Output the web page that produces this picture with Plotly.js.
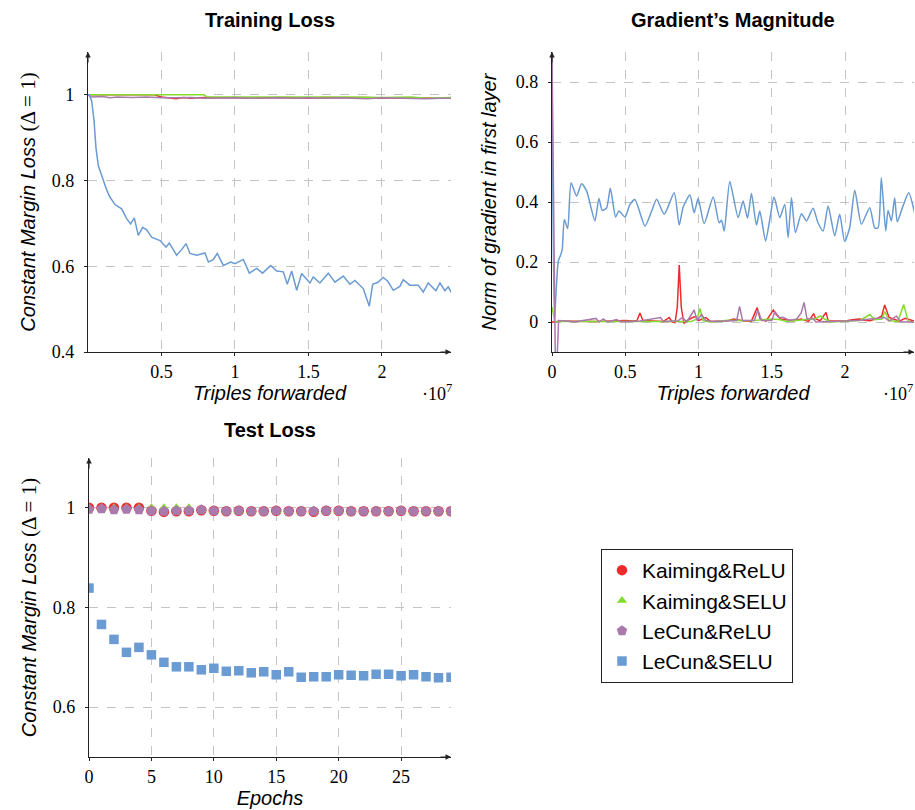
<!DOCTYPE html>
<html>
<head>
<meta charset="utf-8">
<script src="https://cdn.plot.ly/plotly-3.0.1.min.js"></script>
<style>html,body{margin:0;padding:0;background:#fff;}#chart{width:915px;height:810px;}</style>
</head>
<body>
<div id="chart"></div>
<script>
// ---------- Series names & colours ----------
const seriesNames = ['Kaiming&ReLU', 'Kaiming&SELU', 'LeCun&ReLU', 'LeCun&SELU'];
const colors = ['#ee2a2a', '#82dc2e', '#a97aab', '#6a9bd2'];

// ---------- Training loss (x in units of 1e7 triples) ----------
const trainRedX = [0, 0.2, 0.45, 0.5, 0.55, 0.6, 0.65, 0.7, 0.75, 0.8, 0.9, 1.0, 1.1, 1.2, 1.3, 1.4, 1.5, 1.6, 1.7, 1.8, 1.9, 2.0, 2.1, 2.2, 2.3, 2.4, 2.47];
const trainRedY = [1.0, 1.0, 1.0, 0.995, 0.993, 0.991, 0.994, 0.992, 0.993, 0.994, 0.993, 0.994, 0.992, 0.993, 0.994, 0.993, 0.992, 0.994, 0.993, 0.993, 0.994, 0.992, 0.993, 0.993, 0.992, 0.993, 0.992];
const trainGreenX = [0, 0.4, 0.79, 0.81, 1.0, 1.2, 1.4, 1.6, 1.8, 2.0, 2.2, 2.3, 2.4, 2.47];
const trainGreenY = [1.0, 1.0, 1.0, 0.995, 0.995, 0.996, 0.995, 0.995, 0.995, 0.994, 0.995, 0.992, 0.993, 0.994];
const trainPurpleX = [0, 0.02, 0.1, 0.15, 0.2, 0.3, 0.4, 0.5, 0.6, 0.7, 0.8, 0.9, 1.0, 1.1, 1.2, 1.3, 1.4, 1.5, 1.6, 1.7, 1.8, 1.9, 2.0, 2.1, 2.2, 2.3, 2.4, 2.47];
const trainPurpleY = [1.0, 0.995, 0.996, 0.993, 0.995, 0.994, 0.995, 0.993, 0.993, 0.994, 0.992, 0.993, 0.993, 0.992, 0.993, 0.993, 0.992, 0.993, 0.992, 0.993, 0.992, 0.991, 0.993, 0.992, 0.992, 0.991, 0.992, 0.992];
const trainBlueX = [0, 0.009, 0.025, 0.041, 0.054, 0.07, 0.085, 0.104, 0.125, 0.15, 0.184, 0.229, 0.263, 0.29, 0.315, 0.342, 0.372, 0.399, 0.433, 0.49, 0.531, 0.553, 0.603, 0.64, 0.667, 0.694, 0.739, 0.796, 0.819, 0.85, 0.88, 0.921, 0.971, 1.0, 1.03, 1.057, 1.098, 1.148, 1.188, 1.243, 1.284, 1.329, 1.356, 1.386, 1.42, 1.454, 1.51, 1.533, 1.578, 1.635, 1.68, 1.737, 1.782, 1.816, 1.873, 1.914, 1.937, 1.97, 2.009, 2.04, 2.077, 2.122, 2.145, 2.19, 2.247, 2.281, 2.315, 2.367, 2.395, 2.429, 2.451, 2.474];
const trainBlueY = [1.0, 1.0, 0.986, 0.94, 0.877, 0.835, 0.82, 0.80, 0.78, 0.761, 0.744, 0.734, 0.711, 0.699, 0.713, 0.672, 0.691, 0.685, 0.668, 0.66, 0.645, 0.654, 0.626, 0.64, 0.653, 0.63, 0.626, 0.631, 0.61, 0.615, 0.63, 0.602, 0.61, 0.606, 0.612, 0.616, 0.584, 0.595, 0.584, 0.602, 0.589, 0.587, 0.558, 0.589, 0.544, 0.583, 0.561, 0.575, 0.561, 0.584, 0.563, 0.577, 0.558, 0.567, 0.548, 0.507, 0.558, 0.562, 0.574, 0.565, 0.544, 0.553, 0.569, 0.556, 0.556, 0.54, 0.561, 0.543, 0.561, 0.543, 0.552, 0.538];

// ---------- Gradient magnitude ----------
const gradRedX = [0, 0.02, 0.05, 0.3, 0.5, 0.55, 0.58, 0.6, 0.62, 0.7, 0.76, 0.8, 0.82, 0.84, 0.855, 0.868, 0.882, 0.9, 0.92, 0.96, 0.98, 1.0, 1.05, 1.08, 1.2, 1.24, 1.3, 1.36, 1.4, 1.42, 1.46, 1.51, 1.53, 1.56, 1.6, 1.65, 1.7, 1.75, 1.785, 1.8, 1.83, 1.87, 1.885, 1.95, 2.0, 2.06, 2.1, 2.13, 2.17, 2.22, 2.25, 2.27, 2.3, 2.33, 2.37, 2.41, 2.44, 2.47];
const gradRedY = [0.0, 0.0, 0.003, 0.002, 0.005, 0.003, 0.005, 0.03, 0.005, 0.004, 0.002, 0.015, 0.0, -0.002, 0.05, 0.19, 0.05, -0.005, 0.005, 0.015, 0.018, 0.005, 0.015, 0.002, 0.004, 0.01, 0.004, 0.002, 0.048, 0.01, 0.003, 0.04, 0.025, 0.01, 0.008, 0.004, 0.01, 0.002, 0.028, 0.01, 0.004, 0.032, 0.003, 0.002, 0.003, 0.008, 0.01, 0.006, 0.004, 0.012, 0.02, 0.057, 0.015, 0.01, 0.003, 0.012, 0.008, 0.003];
const gradGreenX = [0, 0.01, 0.02, 0.05, 0.3, 0.62, 0.95, 0.99, 1.01, 1.03, 1.08, 1.2, 1.35, 1.5, 1.55, 1.6, 1.8, 1.83, 1.86, 1.9, 2.0, 2.1, 2.17, 2.2, 2.25, 2.27, 2.3, 2.36, 2.4, 2.43, 2.47];
const gradGreenY = [0.05, 0.02, 0.0, 0.002, 0.002, 0.002, 0.002, 0.01, 0.045, 0.005, 0.0, 0.006, 0.004, 0.01, 0.008, 0.002, 0.012, 0.02, 0.01, 0.0, 0.002, 0.005, 0.025, 0.008, 0.01, 0.035, 0.005, 0.002, 0.058, 0.002, 0.0];
const gradPurpleX = [0, 0.015, 0.022, 0.035, 0.045, 0.1, 0.15, 0.3, 0.32, 0.35, 0.38, 0.44, 0.47, 0.6, 0.74, 0.76, 0.86, 0.89, 0.92, 0.97, 0.99, 1.02, 1.05, 1.1, 1.26, 1.28, 1.3, 1.38, 1.405, 1.43, 1.5, 1.52, 1.55, 1.58, 1.62, 1.67, 1.7, 1.72, 1.74, 1.78, 1.8, 2.0, 2.1, 2.2, 2.27, 2.3, 2.35, 2.38, 2.47];
const gradPurpleY = [0.9, 0.3, -0.1, -0.12, 0.005, 0.003, 0.0, 0.012, 0.0, 0.01, 0.0, 0.008, 0.0, 0.003, 0.015, 0.002, 0.004, 0.015, 0.0, 0.04, 0.005, 0.025, 0.005, 0.002, 0.005, 0.052, 0.005, 0.005, 0.04, 0.005, 0.005, 0.035, 0.015, 0.015, 0.005, 0.01, 0.03, 0.065, 0.01, 0.012, 0.0, 0.003, 0.006, 0.012, 0.015, 0.003, 0.02, 0.0, 0.0];
const gradBlueX = [0, 0.016, 0.03, 0.043, 0.061, 0.07, 0.084, 0.107, 0.13, 0.168, 0.202, 0.236, 0.293, 0.32, 0.343, 0.373, 0.398, 0.434, 0.457, 0.498, 0.532, 0.566, 0.634, 0.68, 0.714, 0.766, 0.834, 0.868, 0.895, 0.941, 0.97, 0.997, 1.038, 1.1, 1.14, 1.157, 1.175, 1.213, 1.27, 1.304, 1.334, 1.361, 1.395, 1.418, 1.457, 1.486, 1.515, 1.554, 1.588, 1.611, 1.634, 1.661, 1.702, 1.736, 1.781, 1.815, 1.85, 1.884, 1.929, 1.963, 1.997, 2.031, 2.066, 2.111, 2.168, 2.202, 2.225, 2.247, 2.277, 2.293, 2.316, 2.338, 2.356, 2.395, 2.434, 2.474];
const gradBlueY = [0.9, 0.0, 0.12, 0.203, 0.226, 0.242, 0.342, 0.311, 0.464, 0.42, 0.461, 0.437, 0.337, 0.412, 0.372, 0.381, 0.446, 0.35, 0.37, 0.35, 0.392, 0.408, 0.32, 0.37, 0.409, 0.359, 0.431, 0.323, 0.383, 0.423, 0.364, 0.412, 0.328, 0.417, 0.331, 0.339, 0.303, 0.468, 0.348, 0.403, 0.346, 0.428, 0.323, 0.37, 0.27, 0.342, 0.417, 0.348, 0.392, 0.281, 0.414, 0.298, 0.361, 0.337, 0.379, 0.331, 0.303, 0.387, 0.287, 0.359, 0.268, 0.314, 0.439, 0.326, 0.381, 0.314, 0.314, 0.481, 0.303, 0.372, 0.337, 0.414, 0.334, 0.387, 0.431, 0.364];

// ---------- Test loss ----------
const epochs = [0, 1, 2, 3, 4, 5, 6, 7, 8, 9, 10, 11, 12, 13, 14, 15, 16, 17, 18, 19, 20, 21, 22, 23, 24, 25, 26, 27, 28, 29];
const testRed = [1.0, 1.0, 1.0, 1.0, 1.0, 0.994, 0.992, 0.993, 0.993, 0.995, 0.994, 0.993, 0.994, 0.993, 0.993, 0.994, 0.993, 0.993, 0.992, 0.994, 0.994, 0.993, 0.993, 0.993, 0.993, 0.994, 0.993, 0.993, 0.993, 0.993];
const testGreen = [1.0, 1.0, 1.0, 1.0, 1.0, 1.0, 1.0, 1.0, 1.0, 0.996, 0.994, 0.994, 0.994, 0.994, 0.994, 0.994, 0.994, 0.994, 0.994, 0.994, 0.994, 0.994, 0.994, 0.994, 0.994, 0.994, 0.994, 0.994, 0.994, 0.994];
const testPurple = [0.997, 0.998, 0.996, 0.997, 0.996, 0.994, 0.993, 0.994, 0.994, 0.996, 0.994, 0.993, 0.994, 0.993, 0.993, 0.994, 0.993, 0.993, 0.993, 0.994, 0.994, 0.993, 0.993, 0.993, 0.993, 0.994, 0.993, 0.993, 0.993, 0.993];
const testBlue = [0.839, 0.766, 0.736, 0.710, 0.720, 0.705, 0.690, 0.681, 0.681, 0.675, 0.678, 0.672, 0.673, 0.669, 0.671, 0.665, 0.671, 0.660, 0.661, 0.661, 0.665, 0.664, 0.663, 0.666, 0.666, 0.663, 0.665, 0.661, 0.659, 0.660];

// ---------- Tick labels ----------
const tripleTicks = [0, 0.5, 1, 1.5, 2];
const tripleTickText = ['0', '0.5', '1', '1.5', '2'];
const trainYTicks = [0.4, 0.6, 0.8, 1];
const trainYTickText = ['0.4', '0.6', '0.8', '1'];
const gradYTicks = [0, 0.2, 0.4, 0.6, 0.8];
const gradYTickText = ['0', '0.2', '0.4', '0.6', '0.8'];
const epochTicks = [0, 5, 10, 15, 20, 25];
const testYTicks = [0.6, 0.8, 1];
const testYTickText = ['0.6', '0.8', '1'];

// ---------- Layout geometry ----------
const W = 915, H = 810;
const px = v => v / W, py = v => 1 - v / H;
const dom1x = [px(88), px(451)], dom1y = [py(352), py(52)];
const dom2x = [px(552), px(914)], dom2y = [py(352), py(52)];
const dom3x = [px(89), px(451)], dom3y = [py(757), py(458)];

const serif = 'Liberation Serif, DejaVu Serif, serif';
const sans = 'Liberation Sans, Arial, sans-serif';
const tickFont = {family: serif, size: 18, color: '#000'};
const axTitleFont = {family: sans, size: 20, color: '#000'};
const lossTitle = '<i>Constant Margin Loss </i><span style="font-family:Liberation Serif;font-size:21px;">(Δ = 1)</span>';

function axisBase(extra) {
  return Object.assign({
    showline: true, linecolor: '#222', linewidth: 1.2,
    showgrid: true, gridcolor: '#c4c4c4', gridwidth: 1, griddash: 'dash',
    zeroline: false, ticks: 'outside', ticklen: 3, tickcolor: '#222',
    tickfont: tickFont, automargin: false, fixedrange: true
  }, extra);
}

const lw = 1.5;
const traces = [
  // Training loss
  {x: trainRedX, y: trainRedY, xaxis: 'x', yaxis: 'y', mode: 'lines', line: {color: colors[0], width: lw}, showlegend: false},
  {x: trainGreenX, y: trainGreenY, xaxis: 'x', yaxis: 'y', mode: 'lines', line: {color: colors[1], width: lw}, showlegend: false},
  {x: trainPurpleX, y: trainPurpleY, xaxis: 'x', yaxis: 'y', mode: 'lines', line: {color: colors[2], width: lw}, showlegend: false},
  {x: trainBlueX, y: trainBlueY, xaxis: 'x', yaxis: 'y', mode: 'lines', line: {color: colors[3], width: lw}, showlegend: false},
  // Gradient magnitude
  {x: gradBlueX, y: gradBlueY, xaxis: 'x2', yaxis: 'y2', mode: 'lines', line: {color: colors[3], width: lw, shape: 'spline', smoothing: 0.6}, showlegend: false},
  {x: gradRedX, y: gradRedY, xaxis: 'x2', yaxis: 'y2', mode: 'lines', line: {color: colors[0], width: lw}, showlegend: false},
  {x: gradGreenX, y: gradGreenY, xaxis: 'x2', yaxis: 'y2', mode: 'lines', line: {color: colors[1], width: lw}, showlegend: false},
  {x: gradPurpleX, y: gradPurpleY, xaxis: 'x2', yaxis: 'y2', mode: 'lines', line: {color: colors[2], width: lw}, showlegend: false},
  // Test loss
  {x: epochs, y: testRed, xaxis: 'x3', yaxis: 'y3', mode: 'markers', name: seriesNames[0], marker: {symbol: 'circle', size: 10.5, color: colors[0]}},
  {x: epochs, y: testGreen, xaxis: 'x3', yaxis: 'y3', mode: 'markers', name: seriesNames[1], marker: {symbol: 'triangle-up', size: 9, color: colors[1]}},
  {x: epochs, y: testPurple, xaxis: 'x3', yaxis: 'y3', mode: 'markers', name: seriesNames[2], marker: {symbol: 'pentagon', size: 11, color: colors[2]}},
  {x: epochs, y: testBlue, xaxis: 'x3', yaxis: 'y3', mode: 'markers', name: seriesNames[3], marker: {symbol: 'square', size: 9.5, color: colors[3]}}
];

function arrow(x, y, ax, ay) {
  return {x: x, y: y, xref: 'paper', yref: 'paper', text: '', showarrow: true,
          ax: ax, ay: ay, arrowhead: 2, arrowsize: 1, arrowwidth: 1.1, arrowcolor: '#222', standoff: 0};
}
function title(text, x, y) {
  return {text: '<b>' + text + '</b>', x: x, y: y, xref: 'paper', yref: 'paper', showarrow: false,
          xanchor: 'center', yanchor: 'middle', font: {family: sans, size: 20, color: '#000'}};
}
function scaleNote(x, y) {
  return {text: '·10<sup>7</sup>', x: x, y: y, xref: 'paper', yref: 'paper', showarrow: false,
          xanchor: 'center', yanchor: 'middle', font: {family: serif, size: 18, color: '#000'}};
}

const layout = {
  width: W, height: H,
  margin: {l: 0, r: 0, t: 0, b: 0},
  paper_bgcolor: '#fff', plot_bgcolor: '#fff',
  showlegend: true,
  legend: {x: px(601), y: py(549), xanchor: 'left', yanchor: 'top',
           bordercolor: '#222', borderwidth: 1, bgcolor: '#fff',
           font: {family: sans, size: 21, color: '#000'}},
  xaxis: axisBase({domain: dom1x, anchor: 'y', range: [0, 2.47], tickvals: tripleTicks.slice(1), ticktext: tripleTickText.slice(1),
    title: {text: '<i>Triples forwarded</i>', font: axTitleFont, standoff: 2}}),
  yaxis: axisBase({domain: dom1y, anchor: 'x', range: [0.4, 1.1], tickvals: trainYTicks, ticktext: trainYTickText,
    ticklabelstandoff: 6, title: {text: lossTitle, font: axTitleFont, standoff: 10}}),
  xaxis2: axisBase({domain: dom2x, anchor: 'y2', range: [0, 2.47], tickvals: tripleTicks, ticktext: tripleTickText,
    title: {text: '<i>Triples forwarded</i>', font: axTitleFont, standoff: 2}}),
  yaxis2: axisBase({domain: dom2y, anchor: 'x2', range: [-0.1, 0.9], tickvals: gradYTicks, ticktext: gradYTickText,
    ticklabelstandoff: 6, title: {text: '<i>Norm of gradient in first layer</i>', font: axTitleFont, standoff: 13}}),
  xaxis3: axisBase({domain: dom3x, anchor: 'y3', range: [0, 29], tickvals: epochTicks,
    title: {text: '<i>Epochs</i>', font: axTitleFont, standoff: 2}}),
  yaxis3: axisBase({domain: dom3y, anchor: 'x3', range: [0.5, 1.1], tickvals: testYTicks, ticktext: testYTickText,
    ticklabelstandoff: 6, title: {text: lossTitle, font: axTitleFont, standoff: 10}}),
  annotations: [
    title('Training Loss', px(270), py(20)),
    title('Gradient’s Magnitude', px(733), py(20)),
    title('Test Loss', px(270), py(430)),
    scaleNote(px(437), py(392)),
    scaleNote(px(898), py(392)),
    arrow(dom1x[0], dom1y[1], 0, 12), arrow(dom1x[1], dom1y[0], -12, 0),
    arrow(dom2x[0], dom2y[1], 0, 12), arrow(dom2x[1], dom2y[0], -12, 0),
    arrow(dom3x[0], dom3y[1], 0, 12), arrow(dom3x[1], dom3y[0], -12, 0)
  ]
};

Plotly.newPlot('chart', traces, layout, {staticPlot: true, displayModeBar: false});
</script>
</body>
</html>
